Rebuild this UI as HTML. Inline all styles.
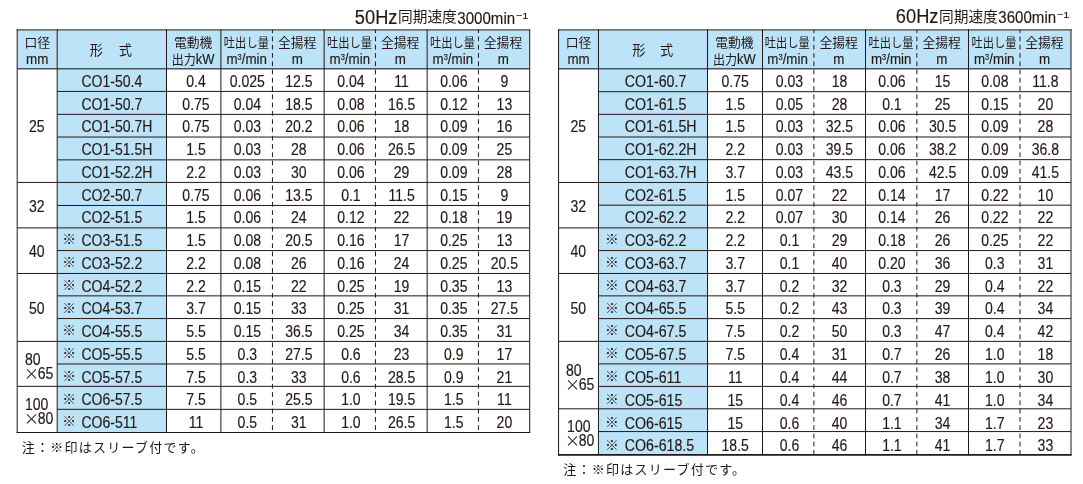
<!DOCTYPE html>
<html lang="ja">
<head>
<meta charset="utf-8">
<title>性能表 50Hz / 60Hz</title>
<style>
html,body{margin:0;padding:0;background:#fff;}
body{width:1083px;height:484px;overflow:hidden;}
svg{display:block;}
text{fill:#231815;stroke:#231815;stroke-width:0.15px;}
.l{font-family:"Liberation Sans","Noto Sans CJK JP",sans-serif;}
.j{font-family:"Noto Sans CJK JP","Liberation Sans",sans-serif;font-weight:400;stroke-width:0;}
</style>
</head>
<body>
<svg width="1083" height="484" viewBox="0 0 1083 484">
<rect x="17.2" y="29.9" width="512.5" height="38.9" fill="#bde3f8"/>
<rect x="57.2" y="68.8" width="109.3" height="363.7" fill="#bde3f8"/>
<line x1="16.7" y1="29.9" x2="530.2" y2="29.9" stroke="#231815" stroke-width="1"/>
<line x1="17.2" y1="68.8" x2="529.7" y2="68.8" stroke="#4a525c" stroke-width="1.6"/>
<line x1="57.2" y1="91.43" x2="529.7" y2="91.43" stroke="#231815" stroke-width="1"/>
<line x1="57.2" y1="114.38" x2="529.7" y2="114.38" stroke="#231815" stroke-width="1"/>
<line x1="57.2" y1="137.04" x2="529.7" y2="137.04" stroke="#231815" stroke-width="1"/>
<line x1="57.2" y1="159.86" x2="529.7" y2="159.86" stroke="#231815" stroke-width="1"/>
<line x1="17.2" y1="182.42" x2="529.7" y2="182.42" stroke="#231815" stroke-width="1"/>
<line x1="57.2" y1="205.47" x2="529.7" y2="205.47" stroke="#231815" stroke-width="1"/>
<line x1="17.2" y1="227.9" x2="529.7" y2="227.9" stroke="#231815" stroke-width="1"/>
<line x1="57.2" y1="250.57" x2="529.7" y2="250.57" stroke="#231815" stroke-width="1"/>
<line x1="17.2" y1="273.47" x2="529.7" y2="273.47" stroke="#231815" stroke-width="1"/>
<line x1="57.2" y1="295.87" x2="529.7" y2="295.87" stroke="#231815" stroke-width="1"/>
<line x1="57.2" y1="318.55" x2="529.7" y2="318.55" stroke="#231815" stroke-width="1"/>
<line x1="17.2" y1="341.42" x2="529.7" y2="341.42" stroke="#231815" stroke-width="1"/>
<line x1="57.2" y1="363.97" x2="529.7" y2="363.97" stroke="#231815" stroke-width="1"/>
<line x1="17.2" y1="386.35" x2="529.7" y2="386.35" stroke="#231815" stroke-width="1"/>
<line x1="57.2" y1="409.34" x2="529.7" y2="409.34" stroke="#231815" stroke-width="1"/>
<line x1="16.7" y1="432.5" x2="530.2" y2="432.5" stroke="#231815" stroke-width="1"/>
<line x1="17.2" y1="29.4" x2="17.2" y2="433" stroke="#231815" stroke-width="1"/>
<line x1="57.2" y1="29.4" x2="57.2" y2="433" stroke="#231815" stroke-width="1"/>
<line x1="166.5" y1="29.4" x2="166.5" y2="433" stroke="#231815" stroke-width="1"/>
<line x1="220.9" y1="29.4" x2="220.9" y2="433" stroke="#231815" stroke-width="1"/>
<line x1="324.15" y1="29.4" x2="324.15" y2="433" stroke="#231815" stroke-width="1"/>
<line x1="427.15" y1="29.4" x2="427.15" y2="433" stroke="#231815" stroke-width="1"/>
<line x1="529.7" y1="29.4" x2="529.7" y2="433" stroke="#231815" stroke-width="1"/>
<line x1="272.45" y1="29.9" x2="272.45" y2="432.5" stroke="#231815" stroke-width="1" stroke-dasharray="4.7 3.57" stroke-dashoffset="1.6"/>
<line x1="375.45" y1="29.9" x2="375.45" y2="432.5" stroke="#231815" stroke-width="1" stroke-dasharray="4.7 3.57" stroke-dashoffset="1.6"/>
<line x1="478.45" y1="29.9" x2="478.45" y2="432.5" stroke="#231815" stroke-width="1" stroke-dasharray="4.7 3.57" stroke-dashoffset="1.6"/>
<text transform="translate(528.5 23.7)" text-anchor="end"><tspan class="l" font-size="20" textLength="42.6" lengthAdjust="spacingAndGlyphs">50Hz</tspan><tspan class="j" font-size="14.7" dx="0.6" dy="-1.3">同期速度</tspan><tspan class="l" font-size="16" dx="0.5" dy="1.3" textLength="57.8" lengthAdjust="spacingAndGlyphs">3000min</tspan><tspan class="l" font-size="9.5" dy="-5.0" dx="0.8" textLength="12.6" lengthAdjust="spacingAndGlyphs">−1</tspan></text>
<text class="j" transform="translate(37.2 47.4) scale(1 1)" font-size="12.8" text-anchor="middle">口径</text>
<text class="l" transform="translate(37.2 64.4) scale(0.89 1)" font-size="15" text-anchor="middle">mm</text>
<text class="j" font-size="13.2" transform="translate(111.85 55.2) scale(1 1)"><tspan x="-22.2">形</tspan><tspan x="7.0">式</tspan></text>
<text class="j" transform="translate(193.1 47.4) scale(1 1)" font-size="12.8" text-anchor="middle">電動機</text>
<text transform="translate(193 63.6) scale(0.94 1)" text-anchor="middle"><tspan class="j" font-size="12.8">出力</tspan><tspan class="l" font-size="13.8">kW</tspan></text>
<text class="j" transform="translate(246.38 47.4) scale(0.88 1)" font-size="12.8" text-anchor="middle">吐出し量</text>
<text class="l" transform="translate(246.68 64.4) scale(0.89 1)" text-anchor="middle" font-size="15">m<tspan font-size="8.5" dy="-4.8">3</tspan><tspan dy="4.8">/min</tspan></text>
<text class="j" transform="translate(349.5 47.4) scale(0.88 1)" font-size="12.8" text-anchor="middle">吐出し量</text>
<text class="l" transform="translate(349.8 64.4) scale(0.89 1)" text-anchor="middle" font-size="15">m<tspan font-size="8.5" dy="-4.8">3</tspan><tspan dy="4.8">/min</tspan></text>
<text class="j" transform="translate(452.5 47.4) scale(0.88 1)" font-size="12.8" text-anchor="middle">吐出し量</text>
<text class="l" transform="translate(452.8 64.4) scale(0.89 1)" text-anchor="middle" font-size="15">m<tspan font-size="8.5" dy="-4.8">3</tspan><tspan dy="4.8">/min</tspan></text>
<text class="j" transform="translate(297.2 47.4) scale(1 1)" font-size="12.8" text-anchor="middle">全揚程</text>
<text class="l" transform="translate(297.4 64.4) scale(0.89 1)" font-size="15" text-anchor="middle">m</text>
<text class="j" transform="translate(400.2 47.4) scale(1 1)" font-size="12.8" text-anchor="middle">全揚程</text>
<text class="l" transform="translate(400.4 64.4) scale(0.89 1)" font-size="15" text-anchor="middle">m</text>
<text class="j" transform="translate(502.98 47.4) scale(1 1)" font-size="12.8" text-anchor="middle">全揚程</text>
<text class="l" transform="translate(503.18 64.4) scale(0.89 1)" font-size="15" text-anchor="middle">m</text>
<text class="l" transform="translate(36.7 132.19) scale(0.89 1)" font-size="15.8" text-anchor="middle">25</text>
<text class="l" transform="translate(81.4 86.8) scale(0.89 1)" font-size="15.8" text-anchor="start">CO1-50.4</text>
<text class="l" transform="translate(195.98 86.8) scale(0.89 1)" font-size="15.8" text-anchor="middle">0.4</text>
<text class="l" transform="translate(247.35 86.8) scale(0.89 1)" font-size="15.8" text-anchor="middle">0.025</text>
<text class="l" transform="translate(298.85 86.8) scale(0.89 1)" font-size="15.8" text-anchor="middle">12.5</text>
<text class="l" transform="translate(350.9 86.8) scale(0.89 1)" font-size="15.8" text-anchor="middle">0.04</text>
<text class="l" transform="translate(401.6 86.8) scale(0.89 1)" font-size="15.8" text-anchor="middle">11</text>
<text class="l" transform="translate(453.8 86.8) scale(0.89 1)" font-size="15.8" text-anchor="middle">0.06</text>
<text class="l" transform="translate(504.4 86.8) scale(0.89 1)" font-size="15.8" text-anchor="middle">9</text>
<text class="l" transform="translate(81.4 109.55) scale(0.89 1)" font-size="15.8" text-anchor="start">CO1-50.7</text>
<text class="l" transform="translate(195.98 109.55) scale(0.89 1)" font-size="15.8" text-anchor="middle">0.75</text>
<text class="l" transform="translate(247.35 109.55) scale(0.89 1)" font-size="15.8" text-anchor="middle">0.04</text>
<text class="l" transform="translate(298.85 109.55) scale(0.89 1)" font-size="15.8" text-anchor="middle">18.5</text>
<text class="l" transform="translate(350.9 109.55) scale(0.89 1)" font-size="15.8" text-anchor="middle">0.08</text>
<text class="l" transform="translate(401.6 109.55) scale(0.89 1)" font-size="15.8" text-anchor="middle">16.5</text>
<text class="l" transform="translate(453.8 109.55) scale(0.89 1)" font-size="15.8" text-anchor="middle">0.12</text>
<text class="l" transform="translate(504.4 109.55) scale(0.89 1)" font-size="15.8" text-anchor="middle">13</text>
<text class="l" transform="translate(81.4 132.31) scale(0.89 1)" font-size="15.8" text-anchor="start">CO1-50.7H</text>
<text class="l" transform="translate(195.98 132.31) scale(0.89 1)" font-size="15.8" text-anchor="middle">0.75</text>
<text class="l" transform="translate(247.35 132.31) scale(0.89 1)" font-size="15.8" text-anchor="middle">0.03</text>
<text class="l" transform="translate(298.85 132.31) scale(0.89 1)" font-size="15.8" text-anchor="middle">20.2</text>
<text class="l" transform="translate(350.9 132.31) scale(0.89 1)" font-size="15.8" text-anchor="middle">0.06</text>
<text class="l" transform="translate(401.6 132.31) scale(0.89 1)" font-size="15.8" text-anchor="middle">18</text>
<text class="l" transform="translate(453.8 132.31) scale(0.89 1)" font-size="15.8" text-anchor="middle">0.09</text>
<text class="l" transform="translate(504.4 132.31) scale(0.89 1)" font-size="15.8" text-anchor="middle">16</text>
<text class="l" transform="translate(81.4 155.06) scale(0.89 1)" font-size="15.8" text-anchor="start">CO1-51.5H</text>
<text class="l" transform="translate(195.98 155.06) scale(0.89 1)" font-size="15.8" text-anchor="middle">1.5</text>
<text class="l" transform="translate(247.35 155.06) scale(0.89 1)" font-size="15.8" text-anchor="middle">0.03</text>
<text class="l" transform="translate(298.85 155.06) scale(0.89 1)" font-size="15.8" text-anchor="middle">28</text>
<text class="l" transform="translate(350.9 155.06) scale(0.89 1)" font-size="15.8" text-anchor="middle">0.06</text>
<text class="l" transform="translate(401.6 155.06) scale(0.89 1)" font-size="15.8" text-anchor="middle">26.5</text>
<text class="l" transform="translate(453.8 155.06) scale(0.89 1)" font-size="15.8" text-anchor="middle">0.09</text>
<text class="l" transform="translate(504.4 155.06) scale(0.89 1)" font-size="15.8" text-anchor="middle">25</text>
<text class="l" transform="translate(81.4 177.82) scale(0.89 1)" font-size="15.8" text-anchor="start">CO1-52.2H</text>
<text class="l" transform="translate(195.98 177.82) scale(0.89 1)" font-size="15.8" text-anchor="middle">2.2</text>
<text class="l" transform="translate(247.35 177.82) scale(0.89 1)" font-size="15.8" text-anchor="middle">0.03</text>
<text class="l" transform="translate(298.85 177.82) scale(0.89 1)" font-size="15.8" text-anchor="middle">30</text>
<text class="l" transform="translate(350.9 177.82) scale(0.89 1)" font-size="15.8" text-anchor="middle">0.06</text>
<text class="l" transform="translate(401.6 177.82) scale(0.89 1)" font-size="15.8" text-anchor="middle">29</text>
<text class="l" transform="translate(453.8 177.82) scale(0.89 1)" font-size="15.8" text-anchor="middle">0.09</text>
<text class="l" transform="translate(504.4 177.82) scale(0.89 1)" font-size="15.8" text-anchor="middle">28</text>
<text class="l" transform="translate(36.7 211.83) scale(0.89 1)" font-size="15.8" text-anchor="middle">32</text>
<text class="l" transform="translate(81.4 200.57) scale(0.89 1)" font-size="15.8" text-anchor="start">CO2-50.7</text>
<text class="l" transform="translate(195.98 200.57) scale(0.89 1)" font-size="15.8" text-anchor="middle">0.75</text>
<text class="l" transform="translate(247.35 200.57) scale(0.89 1)" font-size="15.8" text-anchor="middle">0.06</text>
<text class="l" transform="translate(298.85 200.57) scale(0.89 1)" font-size="15.8" text-anchor="middle">13.5</text>
<text class="l" transform="translate(350.9 200.57) scale(0.89 1)" font-size="15.8" text-anchor="middle">0.1</text>
<text class="l" transform="translate(401.6 200.57) scale(0.89 1)" font-size="15.8" text-anchor="middle">11.5</text>
<text class="l" transform="translate(453.8 200.57) scale(0.89 1)" font-size="15.8" text-anchor="middle">0.15</text>
<text class="l" transform="translate(504.4 200.57) scale(0.89 1)" font-size="15.8" text-anchor="middle">9</text>
<text class="l" transform="translate(81.4 223.33) scale(0.89 1)" font-size="15.8" text-anchor="start">CO2-51.5</text>
<text class="l" transform="translate(195.98 223.33) scale(0.89 1)" font-size="15.8" text-anchor="middle">1.5</text>
<text class="l" transform="translate(247.35 223.33) scale(0.89 1)" font-size="15.8" text-anchor="middle">0.06</text>
<text class="l" transform="translate(298.85 223.33) scale(0.89 1)" font-size="15.8" text-anchor="middle">24</text>
<text class="l" transform="translate(350.9 223.33) scale(0.89 1)" font-size="15.8" text-anchor="middle">0.12</text>
<text class="l" transform="translate(401.6 223.33) scale(0.89 1)" font-size="15.8" text-anchor="middle">22</text>
<text class="l" transform="translate(453.8 223.33) scale(0.89 1)" font-size="15.8" text-anchor="middle">0.18</text>
<text class="l" transform="translate(504.4 223.33) scale(0.89 1)" font-size="15.8" text-anchor="middle">19</text>
<text class="l" transform="translate(36.7 257.34) scale(0.89 1)" font-size="15.8" text-anchor="middle">40</text>
<text class="j" transform="translate(62.3 244.38) scale(1 1)" font-size="13.8" text-anchor="start" font-weight="500">※</text>
<text class="l" transform="translate(81.4 246.08) scale(0.89 1)" font-size="15.8" text-anchor="start">CO3-51.5</text>
<text class="l" transform="translate(195.98 246.08) scale(0.89 1)" font-size="15.8" text-anchor="middle">1.5</text>
<text class="l" transform="translate(247.35 246.08) scale(0.89 1)" font-size="15.8" text-anchor="middle">0.08</text>
<text class="l" transform="translate(298.85 246.08) scale(0.89 1)" font-size="15.8" text-anchor="middle">20.5</text>
<text class="l" transform="translate(350.9 246.08) scale(0.89 1)" font-size="15.8" text-anchor="middle">0.16</text>
<text class="l" transform="translate(401.6 246.08) scale(0.89 1)" font-size="15.8" text-anchor="middle">17</text>
<text class="l" transform="translate(453.8 246.08) scale(0.89 1)" font-size="15.8" text-anchor="middle">0.25</text>
<text class="l" transform="translate(504.4 246.08) scale(0.89 1)" font-size="15.8" text-anchor="middle">13</text>
<text class="j" transform="translate(62.3 267.14) scale(1 1)" font-size="13.8" text-anchor="start" font-weight="500">※</text>
<text class="l" transform="translate(81.4 268.84) scale(0.89 1)" font-size="15.8" text-anchor="start">CO3-52.2</text>
<text class="l" transform="translate(195.98 268.84) scale(0.89 1)" font-size="15.8" text-anchor="middle">2.2</text>
<text class="l" transform="translate(247.35 268.84) scale(0.89 1)" font-size="15.8" text-anchor="middle">0.08</text>
<text class="l" transform="translate(298.85 268.84) scale(0.89 1)" font-size="15.8" text-anchor="middle">26</text>
<text class="l" transform="translate(350.9 268.84) scale(0.89 1)" font-size="15.8" text-anchor="middle">0.16</text>
<text class="l" transform="translate(401.6 268.84) scale(0.89 1)" font-size="15.8" text-anchor="middle">24</text>
<text class="l" transform="translate(453.8 268.84) scale(0.89 1)" font-size="15.8" text-anchor="middle">0.25</text>
<text class="l" transform="translate(504.4 268.84) scale(0.89 1)" font-size="15.8" text-anchor="middle">20.5</text>
<text class="l" transform="translate(36.7 314.23) scale(0.89 1)" font-size="15.8" text-anchor="middle">50</text>
<text class="j" transform="translate(62.3 289.89) scale(1 1)" font-size="13.8" text-anchor="start" font-weight="500">※</text>
<text class="l" transform="translate(81.4 291.59) scale(0.89 1)" font-size="15.8" text-anchor="start">CO4-52.2</text>
<text class="l" transform="translate(195.98 291.59) scale(0.89 1)" font-size="15.8" text-anchor="middle">2.2</text>
<text class="l" transform="translate(247.35 291.59) scale(0.89 1)" font-size="15.8" text-anchor="middle">0.15</text>
<text class="l" transform="translate(298.85 291.59) scale(0.89 1)" font-size="15.8" text-anchor="middle">22</text>
<text class="l" transform="translate(350.9 291.59) scale(0.89 1)" font-size="15.8" text-anchor="middle">0.25</text>
<text class="l" transform="translate(401.6 291.59) scale(0.89 1)" font-size="15.8" text-anchor="middle">19</text>
<text class="l" transform="translate(453.8 291.59) scale(0.89 1)" font-size="15.8" text-anchor="middle">0.35</text>
<text class="l" transform="translate(504.4 291.59) scale(0.89 1)" font-size="15.8" text-anchor="middle">13</text>
<text class="j" transform="translate(62.3 312.65) scale(1 1)" font-size="13.8" text-anchor="start" font-weight="500">※</text>
<text class="l" transform="translate(81.4 314.35) scale(0.89 1)" font-size="15.8" text-anchor="start">CO4-53.7</text>
<text class="l" transform="translate(195.98 314.35) scale(0.89 1)" font-size="15.8" text-anchor="middle">3.7</text>
<text class="l" transform="translate(247.35 314.35) scale(0.89 1)" font-size="15.8" text-anchor="middle">0.15</text>
<text class="l" transform="translate(298.85 314.35) scale(0.89 1)" font-size="15.8" text-anchor="middle">33</text>
<text class="l" transform="translate(350.9 314.35) scale(0.89 1)" font-size="15.8" text-anchor="middle">0.25</text>
<text class="l" transform="translate(401.6 314.35) scale(0.89 1)" font-size="15.8" text-anchor="middle">31</text>
<text class="l" transform="translate(453.8 314.35) scale(0.89 1)" font-size="15.8" text-anchor="middle">0.35</text>
<text class="l" transform="translate(504.4 314.35) scale(0.89 1)" font-size="15.8" text-anchor="middle">27.5</text>
<text class="j" transform="translate(62.3 335.4) scale(1 1)" font-size="13.8" text-anchor="start" font-weight="500">※</text>
<text class="l" transform="translate(81.4 337.1) scale(0.89 1)" font-size="15.8" text-anchor="start">CO4-55.5</text>
<text class="l" transform="translate(195.98 337.1) scale(0.89 1)" font-size="15.8" text-anchor="middle">5.5</text>
<text class="l" transform="translate(247.35 337.1) scale(0.89 1)" font-size="15.8" text-anchor="middle">0.15</text>
<text class="l" transform="translate(298.85 337.1) scale(0.89 1)" font-size="15.8" text-anchor="middle">36.5</text>
<text class="l" transform="translate(350.9 337.1) scale(0.89 1)" font-size="15.8" text-anchor="middle">0.25</text>
<text class="l" transform="translate(401.6 337.1) scale(0.89 1)" font-size="15.8" text-anchor="middle">34</text>
<text class="l" transform="translate(453.8 337.1) scale(0.89 1)" font-size="15.8" text-anchor="middle">0.35</text>
<text class="l" transform="translate(504.4 337.1) scale(0.89 1)" font-size="15.8" text-anchor="middle">31</text>
<text class="l" transform="translate(24.9 364.72) scale(0.89 1)" font-size="15.8" text-anchor="start">80</text>
<text transform="translate(23.9 378.72)" text-anchor="start"><tspan class="j" font-size="15">×</tspan><tspan class="l" font-size="15.8" dx="-1.2" textLength="15.64" lengthAdjust="spacingAndGlyphs">65</tspan></text>
<text class="j" transform="translate(62.3 358.16) scale(1 1)" font-size="13.8" text-anchor="start" font-weight="500">※</text>
<text class="l" transform="translate(81.4 359.86) scale(0.89 1)" font-size="15.8" text-anchor="start">CO5-55.5</text>
<text class="l" transform="translate(195.98 359.86) scale(0.89 1)" font-size="15.8" text-anchor="middle">5.5</text>
<text class="l" transform="translate(247.35 359.86) scale(0.89 1)" font-size="15.8" text-anchor="middle">0.3</text>
<text class="l" transform="translate(298.85 359.86) scale(0.89 1)" font-size="15.8" text-anchor="middle">27.5</text>
<text class="l" transform="translate(350.9 359.86) scale(0.89 1)" font-size="15.8" text-anchor="middle">0.6</text>
<text class="l" transform="translate(401.6 359.86) scale(0.89 1)" font-size="15.8" text-anchor="middle">23</text>
<text class="l" transform="translate(453.8 359.86) scale(0.89 1)" font-size="15.8" text-anchor="middle">0.9</text>
<text class="l" transform="translate(504.4 359.86) scale(0.89 1)" font-size="15.8" text-anchor="middle">17</text>
<text class="j" transform="translate(62.3 380.92) scale(1 1)" font-size="13.8" text-anchor="start" font-weight="500">※</text>
<text class="l" transform="translate(81.4 382.62) scale(0.89 1)" font-size="15.8" text-anchor="start">CO5-57.5</text>
<text class="l" transform="translate(195.98 382.62) scale(0.89 1)" font-size="15.8" text-anchor="middle">7.5</text>
<text class="l" transform="translate(247.35 382.62) scale(0.89 1)" font-size="15.8" text-anchor="middle">0.3</text>
<text class="l" transform="translate(298.85 382.62) scale(0.89 1)" font-size="15.8" text-anchor="middle">33</text>
<text class="l" transform="translate(350.9 382.62) scale(0.89 1)" font-size="15.8" text-anchor="middle">0.6</text>
<text class="l" transform="translate(401.6 382.62) scale(0.89 1)" font-size="15.8" text-anchor="middle">28.5</text>
<text class="l" transform="translate(453.8 382.62) scale(0.89 1)" font-size="15.8" text-anchor="middle">0.9</text>
<text class="l" transform="translate(504.4 382.62) scale(0.89 1)" font-size="15.8" text-anchor="middle">21</text>
<text class="l" transform="translate(24.9 410.23) scale(0.89 1)" font-size="15.8" text-anchor="start">100</text>
<text transform="translate(23.9 424.23)" text-anchor="start"><tspan class="j" font-size="15">×</tspan><tspan class="l" font-size="15.8" dx="-1.2" textLength="15.64" lengthAdjust="spacingAndGlyphs">80</tspan></text>
<text class="j" transform="translate(62.3 403.67) scale(1 1)" font-size="13.8" text-anchor="start" font-weight="500">※</text>
<text class="l" transform="translate(81.4 405.37) scale(0.89 1)" font-size="15.8" text-anchor="start">CO6-57.5</text>
<text class="l" transform="translate(195.98 405.37) scale(0.89 1)" font-size="15.8" text-anchor="middle">7.5</text>
<text class="l" transform="translate(247.35 405.37) scale(0.89 1)" font-size="15.8" text-anchor="middle">0.5</text>
<text class="l" transform="translate(298.85 405.37) scale(0.89 1)" font-size="15.8" text-anchor="middle">25.5</text>
<text class="l" transform="translate(350.9 405.37) scale(0.89 1)" font-size="15.8" text-anchor="middle">1.0</text>
<text class="l" transform="translate(401.6 405.37) scale(0.89 1)" font-size="15.8" text-anchor="middle">19.5</text>
<text class="l" transform="translate(453.8 405.37) scale(0.89 1)" font-size="15.8" text-anchor="middle">1.5</text>
<text class="l" transform="translate(504.4 405.37) scale(0.89 1)" font-size="15.8" text-anchor="middle">11</text>
<text class="j" transform="translate(62.3 426.43) scale(1 1)" font-size="13.8" text-anchor="start" font-weight="500">※</text>
<text class="l" transform="translate(81.4 428.12) scale(0.89 1)" font-size="15.8" text-anchor="start">CO6-511</text>
<text class="l" transform="translate(195.98 428.12) scale(0.89 1)" font-size="15.8" text-anchor="middle">11</text>
<text class="l" transform="translate(247.35 428.12) scale(0.89 1)" font-size="15.8" text-anchor="middle">0.5</text>
<text class="l" transform="translate(298.85 428.12) scale(0.89 1)" font-size="15.8" text-anchor="middle">31</text>
<text class="l" transform="translate(350.9 428.12) scale(0.89 1)" font-size="15.8" text-anchor="middle">1.0</text>
<text class="l" transform="translate(401.6 428.12) scale(0.89 1)" font-size="15.8" text-anchor="middle">26.5</text>
<text class="l" transform="translate(453.8 428.12) scale(0.89 1)" font-size="15.8" text-anchor="middle">1.5</text>
<text class="l" transform="translate(504.4 428.12) scale(0.89 1)" font-size="15.8" text-anchor="middle">20</text>
<text class="j" transform="translate(21.8 451.6) scale(1 1)" font-size="13" text-anchor="start" letter-spacing="1.25">注：※印はスリーブ付です。</text>
<rect x="558.57" y="29.9" width="512.43" height="38.9" fill="#bde3f8"/>
<rect x="598.46" y="68.8" width="109.06" height="386.1" fill="#bde3f8"/>
<line x1="558.07" y1="29.9" x2="1071.5" y2="29.9" stroke="#231815" stroke-width="1"/>
<line x1="558.57" y1="68.8" x2="1071" y2="68.8" stroke="#4a525c" stroke-width="1.6"/>
<line x1="598.46" y1="91.7" x2="1071" y2="91.7" stroke="#231815" stroke-width="1"/>
<line x1="598.46" y1="114.34" x2="1071" y2="114.34" stroke="#231815" stroke-width="1"/>
<line x1="598.46" y1="137" x2="1071" y2="137" stroke="#231815" stroke-width="1"/>
<line x1="598.46" y1="159.66" x2="1071" y2="159.66" stroke="#231815" stroke-width="1"/>
<line x1="558.57" y1="182.47" x2="1071" y2="182.47" stroke="#231815" stroke-width="1"/>
<line x1="598.46" y1="205.16" x2="1071" y2="205.16" stroke="#231815" stroke-width="1"/>
<line x1="558.57" y1="227.9" x2="1071" y2="227.9" stroke="#231815" stroke-width="1"/>
<line x1="598.46" y1="250.57" x2="1071" y2="250.57" stroke="#231815" stroke-width="1"/>
<line x1="558.57" y1="273.47" x2="1071" y2="273.47" stroke="#231815" stroke-width="1"/>
<line x1="598.46" y1="295.87" x2="1071" y2="295.87" stroke="#231815" stroke-width="1"/>
<line x1="598.46" y1="318.6" x2="1071" y2="318.6" stroke="#231815" stroke-width="1"/>
<line x1="558.57" y1="341.36" x2="1071" y2="341.36" stroke="#231815" stroke-width="1"/>
<line x1="598.46" y1="363.9" x2="1071" y2="363.9" stroke="#231815" stroke-width="1"/>
<line x1="598.46" y1="386.42" x2="1071" y2="386.42" stroke="#231815" stroke-width="1"/>
<line x1="558.57" y1="408.8" x2="1071" y2="408.8" stroke="#231815" stroke-width="1"/>
<line x1="598.46" y1="431.57" x2="1071" y2="431.57" stroke="#231815" stroke-width="1"/>
<line x1="558.07" y1="454.9" x2="1071.5" y2="454.9" stroke="#231815" stroke-width="1.8"/>
<line x1="558.57" y1="29.4" x2="558.57" y2="455.4" stroke="#231815" stroke-width="1"/>
<line x1="598.46" y1="29.4" x2="598.46" y2="455.4" stroke="#231815" stroke-width="1"/>
<line x1="707.52" y1="29.4" x2="707.52" y2="455.4" stroke="#231815" stroke-width="1"/>
<line x1="762.5" y1="29.4" x2="762.5" y2="455.4" stroke="#231815" stroke-width="1"/>
<line x1="865.53" y1="29.4" x2="865.53" y2="455.4" stroke="#231815" stroke-width="1"/>
<line x1="968.5" y1="29.4" x2="968.5" y2="455.4" stroke="#231815" stroke-width="1"/>
<line x1="1071" y1="29.4" x2="1071" y2="455.4" stroke="#231815" stroke-width="1"/>
<line x1="813.9" y1="29.9" x2="813.9" y2="454.9" stroke="#231815" stroke-width="1" stroke-dasharray="4.7 3.57" stroke-dashoffset="1.6"/>
<line x1="916.86" y1="29.9" x2="916.86" y2="454.9" stroke="#231815" stroke-width="1" stroke-dasharray="4.7 3.57" stroke-dashoffset="1.6"/>
<line x1="1020" y1="29.9" x2="1020" y2="454.9" stroke="#231815" stroke-width="1" stroke-dasharray="4.7 3.57" stroke-dashoffset="1.6"/>
<text transform="translate(1069.5 23.1)" text-anchor="end"><tspan class="l" font-size="20" textLength="42.6" lengthAdjust="spacingAndGlyphs">60Hz</tspan><tspan class="j" font-size="14.7" dx="0.6" dy="-1.3">同期速度</tspan><tspan class="l" font-size="16" dx="0.5" dy="1.3" textLength="57.8" lengthAdjust="spacingAndGlyphs">3600min</tspan><tspan class="l" font-size="9.5" dy="-5.0" dx="0.8" textLength="12.6" lengthAdjust="spacingAndGlyphs">−1</tspan></text>
<text class="j" transform="translate(578.52 47.4) scale(1 1)" font-size="12.8" text-anchor="middle">口径</text>
<text class="l" transform="translate(578.52 64.4) scale(0.89 1)" font-size="15" text-anchor="middle">mm</text>
<text class="j" font-size="13.2" transform="translate(652.99 55.2) scale(1 1)"><tspan x="-20.7">形</tspan><tspan x="7.0">式</tspan></text>
<text class="j" transform="translate(734.41 47.4) scale(1 1)" font-size="12.8" text-anchor="middle">電動機</text>
<text transform="translate(734.31 63.6) scale(0.94 1)" text-anchor="middle"><tspan class="j" font-size="12.8">出力</tspan><tspan class="l" font-size="13.8">kW</tspan></text>
<text class="j" transform="translate(787.3 47.4) scale(0.88 1)" font-size="12.8" text-anchor="middle">吐出し量</text>
<text class="l" transform="translate(787.6 64.4) scale(0.89 1)" text-anchor="middle" font-size="15">m<tspan font-size="8.5" dy="-4.8">3</tspan><tspan dy="4.8">/min</tspan></text>
<text class="j" transform="translate(890.89 47.4) scale(0.88 1)" font-size="12.8" text-anchor="middle">吐出し量</text>
<text class="l" transform="translate(891.19 64.4) scale(0.89 1)" text-anchor="middle" font-size="15">m<tspan font-size="8.5" dy="-4.8">3</tspan><tspan dy="4.8">/min</tspan></text>
<text class="j" transform="translate(993.95 47.4) scale(0.88 1)" font-size="12.8" text-anchor="middle">吐出し量</text>
<text class="l" transform="translate(994.25 64.4) scale(0.89 1)" text-anchor="middle" font-size="15">m<tspan font-size="8.5" dy="-4.8">3</tspan><tspan dy="4.8">/min</tspan></text>
<text class="j" transform="translate(838.61 47.4) scale(1 1)" font-size="12.8" text-anchor="middle">全揚程</text>
<text class="l" transform="translate(838.81 64.4) scale(0.89 1)" font-size="15" text-anchor="middle">m</text>
<text class="j" transform="translate(941.58 47.4) scale(1 1)" font-size="12.8" text-anchor="middle">全揚程</text>
<text class="l" transform="translate(941.78 64.4) scale(0.89 1)" font-size="15" text-anchor="middle">m</text>
<text class="j" transform="translate(1044.4 47.4) scale(1 1)" font-size="12.8" text-anchor="middle">全揚程</text>
<text class="l" transform="translate(1044.6 64.4) scale(0.89 1)" font-size="15" text-anchor="middle">m</text>
<text class="l" transform="translate(578.3 132.19) scale(0.89 1)" font-size="15.8" text-anchor="middle">25</text>
<text class="l" transform="translate(624.7 86.8) scale(0.9 1)" font-size="15.8" text-anchor="start">CO1-60.7</text>
<text class="l" transform="translate(735.2 86.8) scale(0.89 1)" font-size="15.8" text-anchor="middle">0.75</text>
<text class="l" transform="translate(789.45 86.8) scale(0.89 1)" font-size="15.8" text-anchor="middle">0.03</text>
<text class="l" transform="translate(839.45 86.8) scale(0.89 1)" font-size="15.8" text-anchor="middle">18</text>
<text class="l" transform="translate(891.9 86.8) scale(0.89 1)" font-size="15.8" text-anchor="middle">0.06</text>
<text class="l" transform="translate(942.6 86.8) scale(0.89 1)" font-size="15.8" text-anchor="middle">15</text>
<text class="l" transform="translate(994.8 86.8) scale(0.89 1)" font-size="15.8" text-anchor="middle">0.08</text>
<text class="l" transform="translate(1045.4 86.8) scale(0.89 1)" font-size="15.8" text-anchor="middle">11.8</text>
<text class="l" transform="translate(624.7 109.55) scale(0.9 1)" font-size="15.8" text-anchor="start">CO1-61.5</text>
<text class="l" transform="translate(735.2 109.55) scale(0.89 1)" font-size="15.8" text-anchor="middle">1.5</text>
<text class="l" transform="translate(789.45 109.55) scale(0.89 1)" font-size="15.8" text-anchor="middle">0.05</text>
<text class="l" transform="translate(839.45 109.55) scale(0.89 1)" font-size="15.8" text-anchor="middle">28</text>
<text class="l" transform="translate(891.9 109.55) scale(0.89 1)" font-size="15.8" text-anchor="middle">0.1</text>
<text class="l" transform="translate(942.6 109.55) scale(0.89 1)" font-size="15.8" text-anchor="middle">25</text>
<text class="l" transform="translate(994.8 109.55) scale(0.89 1)" font-size="15.8" text-anchor="middle">0.15</text>
<text class="l" transform="translate(1045.4 109.55) scale(0.89 1)" font-size="15.8" text-anchor="middle">20</text>
<text class="l" transform="translate(624.7 132.31) scale(0.9 1)" font-size="15.8" text-anchor="start">CO1-61.5H</text>
<text class="l" transform="translate(735.2 132.31) scale(0.89 1)" font-size="15.8" text-anchor="middle">1.5</text>
<text class="l" transform="translate(789.45 132.31) scale(0.89 1)" font-size="15.8" text-anchor="middle">0.03</text>
<text class="l" transform="translate(839.45 132.31) scale(0.89 1)" font-size="15.8" text-anchor="middle">32.5</text>
<text class="l" transform="translate(891.9 132.31) scale(0.89 1)" font-size="15.8" text-anchor="middle">0.06</text>
<text class="l" transform="translate(942.6 132.31) scale(0.89 1)" font-size="15.8" text-anchor="middle">30.5</text>
<text class="l" transform="translate(994.8 132.31) scale(0.89 1)" font-size="15.8" text-anchor="middle">0.09</text>
<text class="l" transform="translate(1045.4 132.31) scale(0.89 1)" font-size="15.8" text-anchor="middle">28</text>
<text class="l" transform="translate(624.7 155.06) scale(0.9 1)" font-size="15.8" text-anchor="start">CO1-62.2H</text>
<text class="l" transform="translate(735.2 155.06) scale(0.89 1)" font-size="15.8" text-anchor="middle">2.2</text>
<text class="l" transform="translate(789.45 155.06) scale(0.89 1)" font-size="15.8" text-anchor="middle">0.03</text>
<text class="l" transform="translate(839.45 155.06) scale(0.89 1)" font-size="15.8" text-anchor="middle">39.5</text>
<text class="l" transform="translate(891.9 155.06) scale(0.89 1)" font-size="15.8" text-anchor="middle">0.06</text>
<text class="l" transform="translate(942.6 155.06) scale(0.89 1)" font-size="15.8" text-anchor="middle">38.2</text>
<text class="l" transform="translate(994.8 155.06) scale(0.89 1)" font-size="15.8" text-anchor="middle">0.09</text>
<text class="l" transform="translate(1045.4 155.06) scale(0.89 1)" font-size="15.8" text-anchor="middle">36.8</text>
<text class="l" transform="translate(624.7 177.82) scale(0.9 1)" font-size="15.8" text-anchor="start">CO1-63.7H</text>
<text class="l" transform="translate(735.2 177.82) scale(0.89 1)" font-size="15.8" text-anchor="middle">3.7</text>
<text class="l" transform="translate(789.45 177.82) scale(0.89 1)" font-size="15.8" text-anchor="middle">0.03</text>
<text class="l" transform="translate(839.45 177.82) scale(0.89 1)" font-size="15.8" text-anchor="middle">43.5</text>
<text class="l" transform="translate(891.9 177.82) scale(0.89 1)" font-size="15.8" text-anchor="middle">0.06</text>
<text class="l" transform="translate(942.6 177.82) scale(0.89 1)" font-size="15.8" text-anchor="middle">42.5</text>
<text class="l" transform="translate(994.8 177.82) scale(0.89 1)" font-size="15.8" text-anchor="middle">0.09</text>
<text class="l" transform="translate(1045.4 177.82) scale(0.89 1)" font-size="15.8" text-anchor="middle">41.5</text>
<text class="l" transform="translate(578.3 211.83) scale(0.89 1)" font-size="15.8" text-anchor="middle">32</text>
<text class="l" transform="translate(624.7 200.57) scale(0.9 1)" font-size="15.8" text-anchor="start">CO2-61.5</text>
<text class="l" transform="translate(735.2 200.57) scale(0.89 1)" font-size="15.8" text-anchor="middle">1.5</text>
<text class="l" transform="translate(789.45 200.57) scale(0.89 1)" font-size="15.8" text-anchor="middle">0.07</text>
<text class="l" transform="translate(839.45 200.57) scale(0.89 1)" font-size="15.8" text-anchor="middle">22</text>
<text class="l" transform="translate(891.9 200.57) scale(0.89 1)" font-size="15.8" text-anchor="middle">0.14</text>
<text class="l" transform="translate(942.6 200.57) scale(0.89 1)" font-size="15.8" text-anchor="middle">17</text>
<text class="l" transform="translate(994.8 200.57) scale(0.89 1)" font-size="15.8" text-anchor="middle">0.22</text>
<text class="l" transform="translate(1045.4 200.57) scale(0.89 1)" font-size="15.8" text-anchor="middle">10</text>
<text class="l" transform="translate(624.7 223.33) scale(0.9 1)" font-size="15.8" text-anchor="start">CO2-62.2</text>
<text class="l" transform="translate(735.2 223.33) scale(0.89 1)" font-size="15.8" text-anchor="middle">2.2</text>
<text class="l" transform="translate(789.45 223.33) scale(0.89 1)" font-size="15.8" text-anchor="middle">0.07</text>
<text class="l" transform="translate(839.45 223.33) scale(0.89 1)" font-size="15.8" text-anchor="middle">30</text>
<text class="l" transform="translate(891.9 223.33) scale(0.89 1)" font-size="15.8" text-anchor="middle">0.14</text>
<text class="l" transform="translate(942.6 223.33) scale(0.89 1)" font-size="15.8" text-anchor="middle">26</text>
<text class="l" transform="translate(994.8 223.33) scale(0.89 1)" font-size="15.8" text-anchor="middle">0.22</text>
<text class="l" transform="translate(1045.4 223.33) scale(0.89 1)" font-size="15.8" text-anchor="middle">22</text>
<text class="l" transform="translate(578.3 257.34) scale(0.89 1)" font-size="15.8" text-anchor="middle">40</text>
<text class="j" transform="translate(604.9 244.38) scale(1 1)" font-size="13.8" text-anchor="start" font-weight="500">※</text>
<text class="l" transform="translate(624.7 246.08) scale(0.9 1)" font-size="15.8" text-anchor="start">CO3-62.2</text>
<text class="l" transform="translate(735.2 246.08) scale(0.89 1)" font-size="15.8" text-anchor="middle">2.2</text>
<text class="l" transform="translate(789.45 246.08) scale(0.89 1)" font-size="15.8" text-anchor="middle">0.1</text>
<text class="l" transform="translate(839.45 246.08) scale(0.89 1)" font-size="15.8" text-anchor="middle">29</text>
<text class="l" transform="translate(891.9 246.08) scale(0.89 1)" font-size="15.8" text-anchor="middle">0.18</text>
<text class="l" transform="translate(942.6 246.08) scale(0.89 1)" font-size="15.8" text-anchor="middle">26</text>
<text class="l" transform="translate(994.8 246.08) scale(0.89 1)" font-size="15.8" text-anchor="middle">0.25</text>
<text class="l" transform="translate(1045.4 246.08) scale(0.89 1)" font-size="15.8" text-anchor="middle">22</text>
<text class="j" transform="translate(604.9 267.14) scale(1 1)" font-size="13.8" text-anchor="start" font-weight="500">※</text>
<text class="l" transform="translate(624.7 268.84) scale(0.9 1)" font-size="15.8" text-anchor="start">CO3-63.7</text>
<text class="l" transform="translate(735.2 268.84) scale(0.89 1)" font-size="15.8" text-anchor="middle">3.7</text>
<text class="l" transform="translate(789.45 268.84) scale(0.89 1)" font-size="15.8" text-anchor="middle">0.1</text>
<text class="l" transform="translate(839.45 268.84) scale(0.89 1)" font-size="15.8" text-anchor="middle">40</text>
<text class="l" transform="translate(891.9 268.84) scale(0.89 1)" font-size="15.8" text-anchor="middle">0.20</text>
<text class="l" transform="translate(942.6 268.84) scale(0.89 1)" font-size="15.8" text-anchor="middle">36</text>
<text class="l" transform="translate(994.8 268.84) scale(0.89 1)" font-size="15.8" text-anchor="middle">0.3</text>
<text class="l" transform="translate(1045.4 268.84) scale(0.89 1)" font-size="15.8" text-anchor="middle">31</text>
<text class="l" transform="translate(578.3 314.23) scale(0.89 1)" font-size="15.8" text-anchor="middle">50</text>
<text class="j" transform="translate(604.9 289.89) scale(1 1)" font-size="13.8" text-anchor="start" font-weight="500">※</text>
<text class="l" transform="translate(624.7 291.59) scale(0.9 1)" font-size="15.8" text-anchor="start">CO4-63.7</text>
<text class="l" transform="translate(735.2 291.59) scale(0.89 1)" font-size="15.8" text-anchor="middle">3.7</text>
<text class="l" transform="translate(789.45 291.59) scale(0.89 1)" font-size="15.8" text-anchor="middle">0.2</text>
<text class="l" transform="translate(839.45 291.59) scale(0.89 1)" font-size="15.8" text-anchor="middle">32</text>
<text class="l" transform="translate(891.9 291.59) scale(0.89 1)" font-size="15.8" text-anchor="middle">0.3</text>
<text class="l" transform="translate(942.6 291.59) scale(0.89 1)" font-size="15.8" text-anchor="middle">29</text>
<text class="l" transform="translate(994.8 291.59) scale(0.89 1)" font-size="15.8" text-anchor="middle">0.4</text>
<text class="l" transform="translate(1045.4 291.59) scale(0.89 1)" font-size="15.8" text-anchor="middle">22</text>
<text class="j" transform="translate(604.9 312.65) scale(1 1)" font-size="13.8" text-anchor="start" font-weight="500">※</text>
<text class="l" transform="translate(624.7 314.35) scale(0.9 1)" font-size="15.8" text-anchor="start">CO4-65.5</text>
<text class="l" transform="translate(735.2 314.35) scale(0.89 1)" font-size="15.8" text-anchor="middle">5.5</text>
<text class="l" transform="translate(789.45 314.35) scale(0.89 1)" font-size="15.8" text-anchor="middle">0.2</text>
<text class="l" transform="translate(839.45 314.35) scale(0.89 1)" font-size="15.8" text-anchor="middle">43</text>
<text class="l" transform="translate(891.9 314.35) scale(0.89 1)" font-size="15.8" text-anchor="middle">0.3</text>
<text class="l" transform="translate(942.6 314.35) scale(0.89 1)" font-size="15.8" text-anchor="middle">39</text>
<text class="l" transform="translate(994.8 314.35) scale(0.89 1)" font-size="15.8" text-anchor="middle">0.4</text>
<text class="l" transform="translate(1045.4 314.35) scale(0.89 1)" font-size="15.8" text-anchor="middle">34</text>
<text class="j" transform="translate(604.9 335.4) scale(1 1)" font-size="13.8" text-anchor="start" font-weight="500">※</text>
<text class="l" transform="translate(624.7 337.1) scale(0.9 1)" font-size="15.8" text-anchor="start">CO4-67.5</text>
<text class="l" transform="translate(735.2 337.1) scale(0.89 1)" font-size="15.8" text-anchor="middle">7.5</text>
<text class="l" transform="translate(789.45 337.1) scale(0.89 1)" font-size="15.8" text-anchor="middle">0.2</text>
<text class="l" transform="translate(839.45 337.1) scale(0.89 1)" font-size="15.8" text-anchor="middle">50</text>
<text class="l" transform="translate(891.9 337.1) scale(0.89 1)" font-size="15.8" text-anchor="middle">0.3</text>
<text class="l" transform="translate(942.6 337.1) scale(0.89 1)" font-size="15.8" text-anchor="middle">47</text>
<text class="l" transform="translate(994.8 337.1) scale(0.89 1)" font-size="15.8" text-anchor="middle">0.4</text>
<text class="l" transform="translate(1045.4 337.1) scale(0.89 1)" font-size="15.8" text-anchor="middle">42</text>
<text class="l" transform="translate(565.9 376.09) scale(0.89 1)" font-size="15.8" text-anchor="start">80</text>
<text transform="translate(564.9 390.09)" text-anchor="start"><tspan class="j" font-size="15">×</tspan><tspan class="l" font-size="15.8" dx="-1.2" textLength="15.64" lengthAdjust="spacingAndGlyphs">65</tspan></text>
<text class="j" transform="translate(604.9 358.16) scale(1 1)" font-size="13.8" text-anchor="start" font-weight="500">※</text>
<text class="l" transform="translate(624.7 359.86) scale(0.9 1)" font-size="15.8" text-anchor="start">CO5-67.5</text>
<text class="l" transform="translate(735.2 359.86) scale(0.89 1)" font-size="15.8" text-anchor="middle">7.5</text>
<text class="l" transform="translate(789.45 359.86) scale(0.89 1)" font-size="15.8" text-anchor="middle">0.4</text>
<text class="l" transform="translate(839.45 359.86) scale(0.89 1)" font-size="15.8" text-anchor="middle">31</text>
<text class="l" transform="translate(891.9 359.86) scale(0.89 1)" font-size="15.8" text-anchor="middle">0.7</text>
<text class="l" transform="translate(942.6 359.86) scale(0.89 1)" font-size="15.8" text-anchor="middle">26</text>
<text class="l" transform="translate(994.8 359.86) scale(0.89 1)" font-size="15.8" text-anchor="middle">1.0</text>
<text class="l" transform="translate(1045.4 359.86) scale(0.89 1)" font-size="15.8" text-anchor="middle">18</text>
<text class="j" transform="translate(604.9 380.92) scale(1 1)" font-size="13.8" text-anchor="start" font-weight="500">※</text>
<text class="l" transform="translate(624.7 382.62) scale(0.9 1)" font-size="15.8" text-anchor="start">CO5-611</text>
<text class="l" transform="translate(735.2 382.62) scale(0.89 1)" font-size="15.8" text-anchor="middle">11</text>
<text class="l" transform="translate(789.45 382.62) scale(0.89 1)" font-size="15.8" text-anchor="middle">0.4</text>
<text class="l" transform="translate(839.45 382.62) scale(0.89 1)" font-size="15.8" text-anchor="middle">44</text>
<text class="l" transform="translate(891.9 382.62) scale(0.89 1)" font-size="15.8" text-anchor="middle">0.7</text>
<text class="l" transform="translate(942.6 382.62) scale(0.89 1)" font-size="15.8" text-anchor="middle">38</text>
<text class="l" transform="translate(994.8 382.62) scale(0.89 1)" font-size="15.8" text-anchor="middle">1.0</text>
<text class="l" transform="translate(1045.4 382.62) scale(0.89 1)" font-size="15.8" text-anchor="middle">30</text>
<text class="j" transform="translate(604.9 403.97) scale(1 1)" font-size="13.8" text-anchor="start" font-weight="500">※</text>
<text class="l" transform="translate(624.7 405.67) scale(0.9 1)" font-size="15.8" text-anchor="start">CO5-615</text>
<text class="l" transform="translate(735.2 405.67) scale(0.89 1)" font-size="15.8" text-anchor="middle">15</text>
<text class="l" transform="translate(789.45 405.67) scale(0.89 1)" font-size="15.8" text-anchor="middle">0.4</text>
<text class="l" transform="translate(839.45 405.67) scale(0.89 1)" font-size="15.8" text-anchor="middle">46</text>
<text class="l" transform="translate(891.9 405.67) scale(0.89 1)" font-size="15.8" text-anchor="middle">0.7</text>
<text class="l" transform="translate(942.6 405.67) scale(0.89 1)" font-size="15.8" text-anchor="middle">41</text>
<text class="l" transform="translate(994.8 405.67) scale(0.89 1)" font-size="15.8" text-anchor="middle">1.0</text>
<text class="l" transform="translate(1045.4 405.67) scale(0.89 1)" font-size="15.8" text-anchor="middle">34</text>
<text class="l" transform="translate(567.1 431.78) scale(0.89 1)" font-size="15.8" text-anchor="start">100</text>
<text transform="translate(564.9 446.08)" text-anchor="start"><tspan class="j" font-size="15">×</tspan><tspan class="l" font-size="15.8" dx="-1.2" textLength="15.64" lengthAdjust="spacingAndGlyphs">80</tspan></text>
<text class="j" transform="translate(604.9 426.93) scale(1 1)" font-size="13.8" text-anchor="start" font-weight="500">※</text>
<text class="l" transform="translate(624.7 428.62) scale(0.9 1)" font-size="15.8" text-anchor="start">CO6-615</text>
<text class="l" transform="translate(735.2 428.62) scale(0.89 1)" font-size="15.8" text-anchor="middle">15</text>
<text class="l" transform="translate(789.45 428.62) scale(0.89 1)" font-size="15.8" text-anchor="middle">0.6</text>
<text class="l" transform="translate(839.45 428.62) scale(0.89 1)" font-size="15.8" text-anchor="middle">40</text>
<text class="l" transform="translate(891.9 428.62) scale(0.89 1)" font-size="15.8" text-anchor="middle">1.1</text>
<text class="l" transform="translate(942.6 428.62) scale(0.89 1)" font-size="15.8" text-anchor="middle">34</text>
<text class="l" transform="translate(994.8 428.62) scale(0.89 1)" font-size="15.8" text-anchor="middle">1.7</text>
<text class="l" transform="translate(1045.4 428.62) scale(0.89 1)" font-size="15.8" text-anchor="middle">23</text>
<text class="j" transform="translate(604.9 449.78) scale(1 1)" font-size="13.8" text-anchor="start" font-weight="500">※</text>
<text class="l" transform="translate(624.7 451.48) scale(0.9 1)" font-size="15.8" text-anchor="start">CO6-618.5</text>
<text class="l" transform="translate(735.2 451.48) scale(0.89 1)" font-size="15.8" text-anchor="middle">18.5</text>
<text class="l" transform="translate(789.45 451.48) scale(0.89 1)" font-size="15.8" text-anchor="middle">0.6</text>
<text class="l" transform="translate(839.45 451.48) scale(0.89 1)" font-size="15.8" text-anchor="middle">46</text>
<text class="l" transform="translate(891.9 451.48) scale(0.89 1)" font-size="15.8" text-anchor="middle">1.1</text>
<text class="l" transform="translate(942.6 451.48) scale(0.89 1)" font-size="15.8" text-anchor="middle">41</text>
<text class="l" transform="translate(994.8 451.48) scale(0.89 1)" font-size="15.8" text-anchor="middle">1.7</text>
<text class="l" transform="translate(1045.4 451.48) scale(0.89 1)" font-size="15.8" text-anchor="middle">33</text>
<text class="j" transform="translate(563.17 474) scale(1 1)" font-size="13" text-anchor="start" letter-spacing="1.25">注：※印はスリーブ付です。</text>
</svg>
</body>
</html>
